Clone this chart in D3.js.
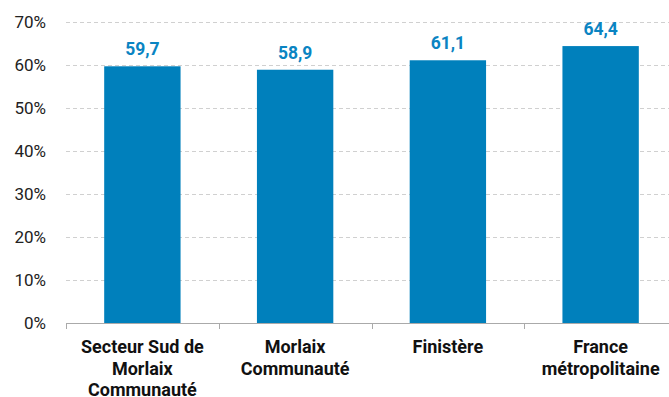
<!DOCTYPE html>
<html><head><meta charset="utf-8">
<script src="https://cdn.jsdelivr.net/npm/d3@7"></script>
<style>body{margin:0;background:#fff}svg{display:block;font-family:Roboto,sans-serif}</style>
</head><body>
<svg id="c" width="669" height="397"></svg>
<script>
const categories = [["Secteur Sud de","Morlaix","Communauté"],["Morlaix","Communauté"],["Finistère"],["France","métropolitaine"]];
const values = [59.7, 58.9, 61.1, 64.4];
const yTicks = [0,10,20,30,40,50,60,70];

const svg = d3.select("#c");
const mLeft = 66, mRight = 677, mTop = 22, mBottom = 323;
const x = d3.scaleBand().domain(d3.range(categories.length)).range([mLeft,mRight]).paddingInner(0.5).paddingOuter(0.25);
const y = d3.scaleLinear().domain([0,70]).range([mBottom,mTop]);

// gridlines
svg.append("g").selectAll("line").data(yTicks.filter(d=>d>0)).join("line")
  .attr("x1",mLeft).attr("x2",669).attr("y1",d=>y(d)+0.5).attr("y2",d=>y(d)+0.5)
  .attr("stroke","#d0d0d0").attr("stroke-dasharray","4,3");

// y labels
svg.append("g").selectAll("text").data(yTicks).join("text")
  .attr("x",46).attr("y",d=>y(d)).attr("dy","0.36em").attr("text-anchor","end")
  .attr("font-size",17).attr("fill","#222").text(d=>d+"%");

// bars
svg.append("g").selectAll("rect").data(values).join("rect")
  .attr("x",(d,i)=>x(i)).attr("width",x.bandwidth())
  .attr("y",d=>y(d)).attr("height",d=>mBottom-y(d)).attr("fill","#0080BC");

// value labels
svg.append("g").selectAll("text").data(values).join("text")
  .attr("x",(d,i)=>x(i)+x.bandwidth()/2).attr("y",d=>y(d)-11)
  .attr("text-anchor","middle").attr("font-size",17.5).attr("font-weight","bold").attr("fill","#0A84C2")
  .text(d=>d.toFixed(1).replace(".",","));

// x axis
const step = x.step();
const xa = svg.append("g");
xa.append("line").attr("x1",mLeft).attr("x2",669).attr("y1",mBottom+0.5).attr("y2",mBottom+0.5).attr("stroke","#aaa");
xa.selectAll("line.t").data(d3.range(categories.length+1)).join("line").attr("class","t")
  .attr("x1",i=>Math.round(mLeft+i*step)+0.5).attr("x2",i=>Math.round(mLeft+i*step)+0.5)
  .attr("y1",mBottom).attr("y2",mBottom+6).attr("stroke","#aaa");
xa.selectAll("text").data(categories).join("text")
  .attr("text-anchor","middle").attr("font-size",18).attr("font-weight","bold").attr("fill","#111")
  .each(function(lines,i){
    d3.select(this).selectAll("tspan").data(lines).join("tspan")
      .attr("x",x(i)+x.bandwidth()/2).attr("y",(d,j)=>353+j*21.5).text(d=>d);
  });
</script>
</body></html>
